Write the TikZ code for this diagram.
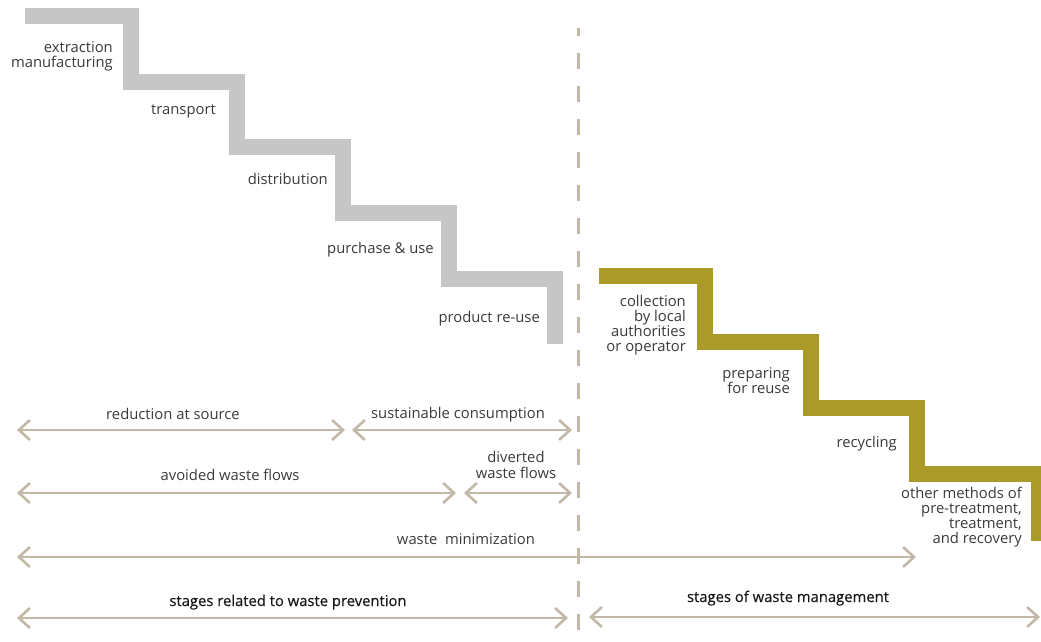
\documentclass[tikz,border=0pt]{standalone}
\usepackage{fontspec}
\setmainfont{Open Sans}
\newfontfamily\stagefont{Open Sans}[FakeBold=0.5]
\usetikzlibrary{arrows.meta}
\definecolor{stairgray}{HTML}{C6C6C6}
\definecolor{stairolive}{HTML}{A99A29}
\definecolor{spantan}{HTML}{C2B8A7}
\definecolor{labeltext}{HTML}{3A3A3A}
\tikzset{
  stair/.style={line width=16pt, line join=miter, line cap=butt},
  steplabel/.style={anchor=base east, align=right, inner sep=0pt, text=labeltext,
    font=\fontsize{14.8}{15}\selectfont},
  spanlabel/.style={anchor=base, align=center, inner sep=0pt, text=labeltext,
    font=\fontsize{14.8}{16}\selectfont},
  stagelabel/.style={anchor=base, inner sep=0pt, text=black!90,
    font=\stagefont\fontsize{14.8}{16}\selectfont},
  spanarrow/.style={draw=spantan, line width=2.6pt,
    {Straight Barb[length=11pt,width=20pt,line width=2.6pt]}-{Straight Barb[length=11pt,width=20pt,line width=2.6pt]}},
}
\begin{document}
\begin{tikzpicture}[x=1pt,y=-1pt]
\useasboundingbox (0,0) rectangle (1041,642);

% divider between prevention and management
\coordinate (divtop) at (578.5,28);
\coordinate (divbot) at (578.5,642);
\draw[spantan, line width=2.4pt, dash pattern=on 16pt off 17pt, dash phase=8pt] (divtop) -- (divbot);

% product life-cycle staircase
\draw[stair, stairgray] (25,16) -- (131,16) -- (131,82) -- (237,82) -- (237,147)
  -- (343,147) -- (343,213) -- (449,213) -- (449,279) -- (555,279) -- (555,344);

% waste management staircase
\draw[stair, stairolive] (599,276) -- (705,276) -- (705,342) -- (811,342) -- (811,408)
  -- (917,408) -- (917,474) -- (1039,474) -- (1039,541);

% stage labels (base = baseline of the last line)
\node[steplabel] (extr) at (113,67) {extraction\\manufacturing};
\node[steplabel] (trans) at (216,114) {transport};
\node[steplabel] (distr) at (328,184) {distribution};
\node[steplabel] (purch) at (434,253) {purchase \& use};
\node[steplabel] (reuse) at (540,322) {product re-use};
\node[steplabel] (coll) at (686,351) {collection\\by local\\authorities\\or operator};
\node[steplabel] (prep) at (790,393) {preparing\\for reuse};
\node[steplabel] (recy) at (897,447) {recycling};
\node[steplabel] (other) at (1022,543) {other methods of\\pre-treatment,\\treatment,\\and recovery};

% span endpoints
\coordinate (r1a) at (17,430);  \coordinate (r1b) at (345,430);
\coordinate (r1c) at (352,430); \coordinate (r1d) at (572,430);
\coordinate (r2a) at (17,493);  \coordinate (r2b) at (456,493);
\coordinate (r2c) at (464,493); \coordinate (r2d) at (572,493);
\coordinate (r3a) at (17,557);  \coordinate (r3b) at (916,557);
\coordinate (r4a) at (17,618);  \coordinate (r4b) at (568,618);
\coordinate (r4c) at (589,617); \coordinate (r4d) at (1040,617);

\draw[spanarrow] (r1a) -- (r1b);
\draw[spanarrow] (r1c) -- (r1d);
\draw[spanarrow] (r2a) -- (r2b);
\draw[spanarrow] (r2c) -- (r2d);
\draw[spanarrow] (r3a) -- (r3b);
\draw[spanarrow] (r4a) -- (r4b);
\draw[spanarrow] (r4c) -- (r4d);

\node[spanlabel] (lred) at (173,419) {reduction at source};
\node[spanlabel] (lsus) at (458,418) {sustainable consumption};
\node[spanlabel] (lavo) at (230,480) {avoided waste flows};
\node[spanlabel] (ldiv) at (516,478) {diverted\\waste flows};
\node[spanlabel] (lmin) at (466,544) {waste\ \ minimization};
\node[stagelabel] (lprev) at (288,606) {stages related to waste prevention};
\node[stagelabel] (lmgmt) at (788,602) {stages of waste management};
\end{tikzpicture}
\end{document}
